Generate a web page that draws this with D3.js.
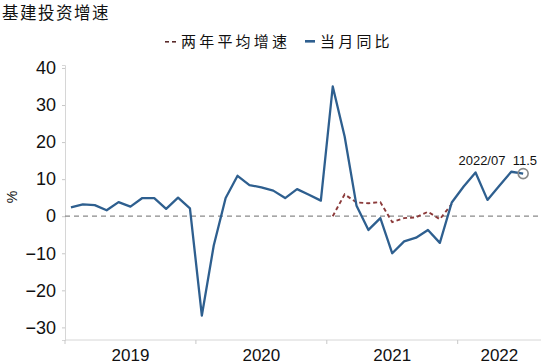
<!DOCTYPE html>
<html><head><meta charset="utf-8">
<script src="https://cdn.jsdelivr.net/npm/d3@7"></script>
<style>body{margin:0;background:#fff}svg{display:block}</style>
</head><body>
<script>
const years = ["2019","2020","2021","2022"];
const months = [
 "2019-02","2019-03","2019-04","2019-05","2019-06","2019-07","2019-08","2019-09","2019-10","2019-11","2019-12",
 "2020-02","2020-03","2020-04","2020-05","2020-06","2020-07","2020-08","2020-09","2020-10","2020-11","2020-12",
 "2021-02","2021-03","2021-04","2021-05","2021-06","2021-07","2021-08","2021-09","2021-10","2021-11","2021-12",
 "2022-02","2022-03","2022-04","2022-05","2022-06","2022-07","2022-08"];
const monthlyYoY = [
 2.4,3.2,3.0,1.6,3.8,2.6,4.9,4.9,2.0,5.0,2.1,
 -26.8,-7.9,4.9,10.9,8.4,7.8,6.9,4.9,7.3,5.8,4.2,
 35.0,21.5,2.8,-3.7,-0.5,-10.0,-6.8,-5.8,-3.7,-7.2,3.7,
 8.0,11.8,4.4,8.2,12.0,11.5,null];
const twoYearAvg = [
 null,null,null,null,null,null,null,null,null,null,null,
 null,null,null,null,null,null,null,null,null,null,null,
 0.0,5.9,3.7,3.5,3.8,-1.6,-0.5,-0.3,1.2,-0.8,3.3,
 null,null,null,null,null,null,null];
const yTicks = [-30,-20,-10,0,10,20,30,40];
const title = "基建投资增速";
const legendLabels = ["两年平均增速","当月同比"];
const annotationText = "2022/07  11.5";

const W=550,H=364;
const svg=d3.select("body").append("svg").attr("width",W).attr("height",H);
const x=d3.scaleBand().domain(months).range([65,541]).padding(0);
const y=d3.scaleLinear().domain([-33.4,40.8]).range([340,65]);
const cx=d=>x(d)+x.bandwidth()/2;

// title
svg.append("text").attr("x",2).attr("y",19).text(title)
  .attr("font-family","Noto Sans CJK SC").attr("font-size",16.5).attr("fill","#111").attr("letter-spacing",1.5);

// legend
const lg=svg.append("g").attr("font-family","Noto Sans CJK SC").attr("font-size",15).attr("fill","#111");
lg.append("rect").attr("x",165).attr("y",41).attr("width",4).attr("height",1.6).attr("fill","#5a2a2a");
lg.append("rect").attr("x",172).attr("y",41).attr("width",4).attr("height",1.6).attr("fill","#5a2a2a");
lg.append("text").attr("x",181).attr("y",47).attr("letter-spacing",3.2).text(legendLabels[0]);
lg.append("rect").attr("x",305).attr("y",40).attr("width",10).attr("height",2.6).attr("fill","#2e5f8f");
lg.append("text").attr("x",320).attr("y",47).attr("letter-spacing",3.2).text(legendLabels[1]);

// y axis
const ya=svg.append("g").attr("transform","translate(65,0)")
 .call(d3.axisLeft(y).tickValues(yTicks).tickSize(3).tickPadding(6).tickFormat(d3.format("d")));
ya.select(".domain").attr("stroke","#d6d6d6");
ya.selectAll(".tick line").attr("stroke","#c8c8c8");
ya.selectAll(".tick text").attr("font-family","Liberation Sans").attr("font-size",18).attr("fill","#111");

// y label
svg.append("text").attr("transform","translate(17,197) rotate(-90)").attr("text-anchor","middle")
 .attr("font-family","Liberation Sans").attr("font-size",14).attr("fill","#111").text("%");

// x axis
const xa=svg.append("g").attr("transform","translate(0,340)");
xa.append("line").attr("x1",65).attr("x2",541).attr("stroke","#d6d6d6");
const yearStart=years.map(yr=>months.find(m=>m.startsWith(yr)));
const yearEnd=years.map(yr=>months.filter(m=>m.startsWith(yr)).slice(-1)[0]);
yearStart.forEach(m=>xa.append("line").attr("x1",x(m)).attr("x2",x(m)).attr("y1",0).attr("y2",4).attr("stroke","#c8c8c8"));
years.forEach((yr,i)=>{
  const mid=(x(yearStart[i])+x(yearEnd[i])+x.bandwidth())/2;
  xa.append("text").attr("x",mid).attr("y",21).attr("text-anchor","middle")
   .attr("font-family","Liberation Sans").attr("font-size",17).attr("fill","#111").text(yr);
});

// zero line
svg.append("line").attr("x1",65).attr("x2",541).attr("y1",y(0)).attr("y2",y(0))
 .attr("stroke","#8a8a8a").attr("stroke-width",1.3).attr("stroke-dasharray","5,4");

// lines
const line=d3.line().defined(d=>d.v!=null).x(d=>cx(d.m)).y(d=>y(d.v));
svg.append("path").datum(months.map((m,i)=>({m,v:twoYearAvg[i]})))
 .attr("d",line).attr("fill","none").attr("stroke","#8b3a3a").attr("stroke-width",1.9).attr("stroke-dasharray","4,3");
svg.append("path").datum(months.map((m,i)=>({m,v:monthlyYoY[i]})))
 .attr("d",line).attr("fill","none").attr("stroke","#2e5f8f").attr("stroke-width",2.3).attr("stroke-linejoin","round");

// annotation
const li=monthlyYoY.findIndex((v,i)=>v!=null && monthlyYoY[i+1]==null);
svg.append("circle").attr("cx",cx(months[li])).attr("cy",y(monthlyYoY[li])).attr("r",5)
 .attr("fill","none").attr("stroke","#8a8a8a").attr("stroke-width",1.6);
svg.append("text").attr("x",537).attr("y",165).attr("text-anchor","end")
 .attr("font-family","Liberation Sans").attr("font-size",13).attr("fill","#111")
 .style("white-space","pre").text(annotationText);
</script>
</body></html>
